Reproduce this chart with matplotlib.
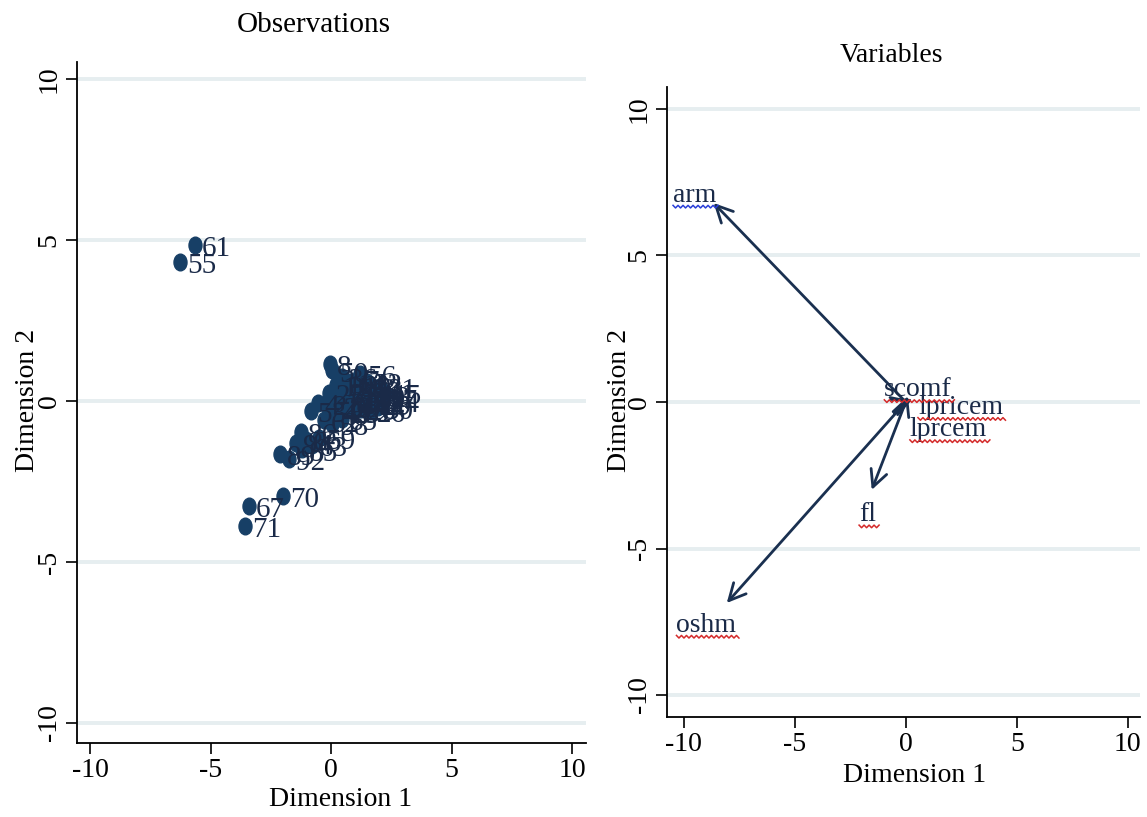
import numpy as np
import matplotlib.pyplot as plt
from matplotlib.path import Path
from matplotlib.lines import Line2D

plt.rcParams['font.family'] = ['Liberation Serif', 'DejaVu Serif']

NAVY = '#173f66'
ARROW_COL = '#1a3050'
LABEL_COL = '#1a2a48'
GRID_COL = '#e6eef0'

# observation scores (dimension 1, dimension 2) and their row numbers
obs_x = [-5.64, -6.27, -1.99, -3.40, -3.57,
         -0.05, 0.05, 0.45, 0.80, 1.20, 1.50, 1.75, 2.00, 2.10, 1.85,
         1.60, 1.35, 1.05, 0.75, 0.50, 0.30, 0.60, 0.95, 1.25, 1.60,
         1.95, 0.15, -0.20, -0.55, -0.85, -0.30, 0.05, 0.45, -1.25, -1.05,
         -0.80, -1.45, -1.20, -2.10, -1.75, -0.50, 1.00, 2.20, 0.20, 1.40,
         0.35, 0.70, 1.10, 1.45, 1.80, 2.25, 0.90, 1.30, 1.70, 0.55,
         -0.10, 0.25, 2.05, 1.55, 0.85]
obs_y = [4.84, 4.32, -2.95, -3.26, -3.88,
         1.15, 0.95, 0.75, 0.60, 0.85, 0.60, 0.45, 0.30, 0.10, -0.10,
         0.15, 0.35, 0.20, 0.35, 0.30, 0.00, -0.15, -0.05, -0.25, -0.30,
         -0.20, -0.35, -0.10, -0.05, -0.30, -0.60, -0.70, -0.55, -0.95, -1.20,
         -1.35, -1.30, -1.50, -1.65, -1.80, -1.15, 0.50, 0.00, 0.50, -0.10,
         0.55, 0.10, 0.70, 0.45, 0.20, 0.25, -0.30, 0.05, -0.05, -0.35,
         0.25, -0.15, 0.45, 0.00, 0.15]
obs_id = [61, 55, 70, 67, 71,
          8, 50, 36, 14, 56, 22, 3, 41, 17, 29,
          10, 46, 33, 5, 27, 12, 39, 44, 20, 26,
          30, 48, 2, 4, 53, 62, 58, 65, 86, 66,
          63, 94, 85, 89, 92, 59, 19, 24, 11, 40,
          1, 6, 7, 9, 13, 15, 16, 18, 21, 23,
          25, 28, 31, 32, 34]

# variable loadings drawn as arrows from the origin
var_names = ['arm', 'oshm', 'fl', 'scomf', 'lpricem', 'lprcem']
var_x = [-8.65, -8.06, -1.53, 0.10, 0.30, 0.25]
var_y = [6.79, -6.86, -3.00, 0.20, 0.10, 0.05]

# where each variable name sits relative to its arrow tip (points)
lab_style = {
    'arm': dict(off=(2, 1), ha='right', va='baseline'),
    'oshm': dict(off=(7, -7), ha='right', va='top'),
    'fl': dict(off=(-3, -9), ha='center', va='top'),
    'scomf': dict(off=(-17, 0), ha='left', va='baseline'),
    'lpricem': dict(off=(4, -6), ha='left', va='center'),
    'lprcem': dict(off=(-1, -21), ha='left', va='center'),
}
squiggle_col = {'arm': '#2a3fd8'}

ticks = [-10, -5, 0, 5, 10]

W, H = 1147, 817
fig = plt.figure(figsize=(W / 100, H / 100), dpi=100)
fig.patch.set_facecolor('white')

ax1 = fig.add_axes([77 / W, 1 - 743 / H, 509 / W, 681 / H])
ax2 = fig.add_axes([667 / W, 1 - 717 / H, 473 / W, 630 / H])


def style_axes(ax, xlim, ylim):
    ax.set_xlim(*xlim)
    ax.set_ylim(*ylim)
    ax.set_xticks(ticks)
    ax.set_yticks(ticks)
    ax.set_xticklabels([str(t) for t in ticks])
    ax.set_yticklabels([str(t) for t in ticks], rotation=90, va='center')
    for s in ['top', 'right']:
        ax.spines[s].set_visible(False)
    for s in ['left', 'bottom']:
        ax.spines[s].set_linewidth(1.3)
    ax.tick_params(direction='out', length=8, width=1.2, labelsize=20, pad=3)
    ax.yaxis.grid(True, color=GRID_COL, lw=2.8)
    ax.set_axisbelow(True)


style_axes(ax1, (-10.54, 10.58), (-10.62, 10.53))
style_axes(ax2, (-10.75, 10.55), (-10.75, 10.75))

# slightly tall oval markers
circ = Path.unit_circle()
oval = Path(circ.vertices * np.array([0.78, 1.0]), circ.codes)

ax1.plot(obs_x, obs_y, ls='none', marker=oval, ms=12, color=NAVY, mec=NAVY, zorder=3)
for x, y, n in zip(obs_x, obs_y, obs_id):
    ax1.annotate(str(n), (x, y), xytext=(5, -3), textcoords='offset points',
                 ha='left', va='center', fontsize=21, color=LABEL_COL, zorder=4)

labels = []
for name, x, y in zip(var_names, var_x, var_y):
    ax2.annotate('', xy=(x, y), xytext=(0, 0),
                 arrowprops=dict(arrowstyle='->,head_length=0.6,head_width=0.3',
                                 color=ARROW_COL, lw=2.0, mutation_scale=20,
                                 shrinkA=0, shrinkB=0))
    st = lab_style[name]
    t = ax2.annotate(name, (x, y), xytext=st['off'], textcoords='offset points',
                     ha=st['ha'], va=st['va'], fontsize=20, color=LABEL_COL)
    labels.append((name, t))

fig.text(314 / W, 1 - 25 / H, 'Observations', ha='center', va='center', fontsize=21)
fig.text(891 / W, 1 - 55 / H, 'Variables', ha='center', va='center', fontsize=20)
fig.text(341 / W, 1 - 800 / H, 'Dimension 1', ha='center', va='center', fontsize=20)
fig.text(915 / W, 1 - 775 / H, 'Dimension 1', ha='center', va='center', fontsize=20)
fig.text(28 / W, 1 - 400 / H, 'Dimension 2', ha='center', va='center', fontsize=20, rotation=90)
fig.text(620 / W, 1 - 400 / H, 'Dimension 2', ha='center', va='center', fontsize=20, rotation=90)

# wavy underline under each variable name
fig.canvas.draw()
renderer = fig.canvas.get_renderer()
inv = fig.transFigure.inverted()
for name, t in labels:
    bb = t.get_window_extent(renderer)
    xs = np.arange(bb.x0, bb.x1 + 4, 2.5)
    ys = bb.y0 + 1 + np.where(np.arange(len(xs)) % 2 == 0, 1.3, -1.3)
    pts = inv.transform(np.column_stack([xs, ys]))
    fig.add_artist(Line2D(pts[:, 0], pts[:, 1], color=squiggle_col.get(name, '#d42a2a'),
                          lw=1.1, transform=fig.transFigure))

fig.savefig('out.png', dpi=100)
